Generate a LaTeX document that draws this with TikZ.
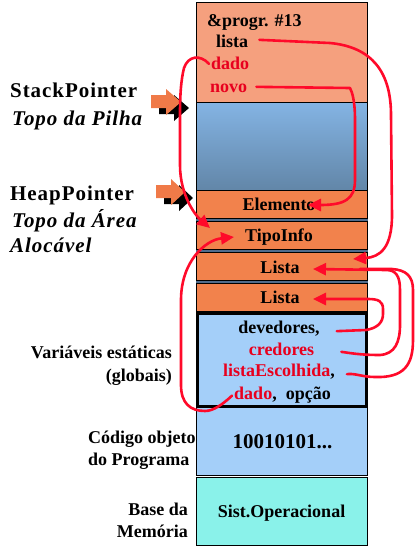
\documentclass[tikz,border=0pt]{standalone}
\usepackage{fontspec}
\setmainfont{Liberation Serif}
\newfontfamily\spaced[LetterSpace=4.5]{Liberation Serif}
\usetikzlibrary{arrows.meta}
\definecolor{salmon}{HTML}{F5A07E}
\definecolor{orng}{HTML}{F2824C}
\definecolor{stackA}{HTML}{84B4E4}
\definecolor{stackB}{HTML}{6286A8}
\definecolor{ltblue}{HTML}{A4CFF9}
\definecolor{cyanb}{HTML}{8AF2EA}
\definecolor{redl}{HTML}{FF0A2A}
\definecolor{redt}{HTML}{E8001E}
\definecolor{gapc}{HTML}{506C8C}
\definecolor{ptr}{HTML}{F07A48}
\tikzset{
  x=1pt, y=-1pt,
  box/.style={draw=black, line width=0.8pt, minimum width=171pt, inner sep=0pt, outer sep=0pt},
  bigl/.style={font=\spaced\bfseries\fontsize{21}{24}\selectfont, inner sep=0pt, anchor=base west},
  bigi/.style={font=\spaced\bfseries\itshape\fontsize{21}{24}\selectfont, inner sep=0pt, anchor=base west},
  side/.style={font=\bfseries\fontsize{18}{21}\selectfont, inner sep=0pt},
  intxt/.style={font=\bfseries\fontsize{18}{21}\selectfont, inner sep=0pt, anchor=base},
  redtx/.style={text=redt},
  link/.style={draw=redl, line width=2.6pt, line cap=round, line join=round},
  tip/.style={-{Triangle[length=13pt,width=12pt]}},
}
\begin{document}
\begin{tikzpicture}
\useasboundingbox (0,0) rectangle (417,547);
% column background for separators
\fill[gapc] (196,189) rectangle (367.5,313);
% boxes
\node[box, fill=salmon, minimum height=100pt] (frame) at (281.75,52) {};
\node[box, top color=stackA, bottom color=stackB, minimum height=88pt] (stack) at (281.75,146) {};
\node[box, fill=orng, minimum height=28pt] (belem) at (281.75,204) {};
\node[box, fill=orng, minimum height=28pt] (btipo) at (281.75,235) {};
\node[box, fill=orng, minimum height=28pt] (blista1) at (281.75,266) {};
\node[box, fill=orng, minimum height=28pt] (blista2) at (281.75,297) {};
\node[box, fill=ltblue, minimum height=68pt] (bcod) at (281.75,441) {};
\node[box, fill=cyanb, minimum height=68pt] (bso) at (281.75,511) {};
\node[box, fill=ltblue, line width=3pt, minimum width=169pt, minimum height=93pt] (bstat) at (281.75,360) {};
% pointer arrows (shadow then orange)
\fill[black] (159,101) -- (174,101) -- (174,95) -- (189,108) -- (174,121) -- (174,114) -- (159,114) -- cycle;
\fill[ptr] (151,95) -- (166,95) -- (166,89) -- (181,102) -- (166,115) -- (166,108) -- (151,108) -- cycle;
\fill[black] (164,191) -- (179,191) -- (179,185) -- (193,198) -- (179,211) -- (179,204) -- (164,204) -- cycle;
\fill[ptr] (156,185) -- (171,185) -- (171,179) -- (185,192) -- (171,205) -- (171,198) -- (156,198) -- cycle;
% left labels
\node[bigl] (sp) at (10,97) {StackPointer};
\node[bigi] (spt) at (12,125) {Topo da Pilha};
\node[bigl] (hp) at (10,200) {HeapPointer};
\node[bigi] (hpt) at (12,227) {Topo da Área};
\node[bigi] (hpt2) at (10,252) {Alocável};
\node[side, anchor=base east] (ve) at (172,358) {Variáveis estáticas};
\node[side, anchor=base east] (vg) at (172,381) {(globais)};
\node[side, anchor=base west] (co) at (88,443) {Código objeto};
\node[side, anchor=base west] (cp) at (88,465) {do Programa};
\node[side, anchor=base east] (bm) at (188,515) {Base da};
\node[side, anchor=base east] (bm2) at (188,537) {Memória};
% frame texts
\node[intxt, anchor=base west] (prog) at (207,26) {\&progr. \#13};
\node[intxt, anchor=base west] (tlista) at (216,47) {lista};
\node[intxt, anchor=base west, redtx] (tdado) at (211,69) {dado};
\node[intxt, anchor=base west, redtx] (tnovo) at (210,92) {novo};
% heap texts
\node[intxt] (telem) at (279,210) {Elemento};
\node[intxt] (ttipo) at (279,241) {TipoInfo};
\node[intxt] (tl1) at (280,273) {Lista};
\node[intxt] (tl2) at (280,303) {Lista};
% static texts
\node[intxt] (tdev) at (279,333) {devedores,};
\node[intxt, redtx] (tcred) at (281.5,355) {credores};
\node[intxt] (tesc) at (279,376) {\textcolor{redt}{listaEscolhida},};
\node[intxt] (tdad2) at (282.5,399) {\textcolor{redt}{dado},\ \ opção};
\node[intxt, font=\bfseries\fontsize{21}{24}\selectfont] (tbin) at (282.5,448) {10010101...};
\node[intxt] (tso) at (281.5,517) {Sist.Operacional};
% arrow tip coordinates
\coordinate (aL1) at (313,269);
\coordinate (aL1b) at (353,259);
\coordinate (aL2) at (313,299);
\coordinate (aEl) at (308,205);
\coordinate (aTi1) at (210,228);
\coordinate (aTi2) at (234,237);
% red connectors
\draw[link, tip] ([xshift=11pt,yshift=1pt]tlista.east) -- (330,43) .. controls (372,47) and (391,72) .. (391,115) -- (392,215) .. controls (392,248) and (380,257) .. (aL1b);
\draw[link, tip] ([xshift=9pt,yshift=1pt]tnovo.east) -- (350,88) .. controls (352,92) and (355,100) .. (355,120) -- (355,180) .. controls (355,199) and (345,205) .. (aEl);
\draw[link, tip] ([xshift=-2pt,yshift=-1pt]tdado.west) .. controls (200,54) and (188,56) .. (184,68) .. controls (181,80) and (180,95) .. (180,115) -- (180,165) .. controls (180,195) and (195,215) .. (aTi1);
\draw[link, tip] ([xshift=-2pt,yshift=-1pt]tdad2.west) .. controls (222,405) and (213,411) .. (205,411) .. controls (190,411) and (181,403) .. (181,385) -- (181,300) .. controls (181,262) and (205,240) .. (aTi2);
\draw[link, tip] ([xshift=17pt,yshift=-3pt]tdev.east) -- (366,330) .. controls (378,328) and (383,322) .. (383,314) -- (383,309) .. controls (383,301) and (378,299) .. (368,299) -- (aL2);
\draw[link, tip] ([xshift=27pt,yshift=-3pt]tcred.east) .. controls (350,353) and (360,355) .. (380,355) .. controls (395,354) and (400,342) .. (400,325) -- (400,290) .. controls (400,276) and (396,270) .. (386,270) -- (aL1);
\draw[link] ([xshift=12pt,yshift=-3pt]tesc.east) .. controls (355,373) and (362,377) .. (375,377) .. controls (404,378) and (413,365) .. (413,340) -- (413,290) .. controls (413,276) and (406,270) .. (392,269) -- (360,269);
\end{tikzpicture}
\end{document}
